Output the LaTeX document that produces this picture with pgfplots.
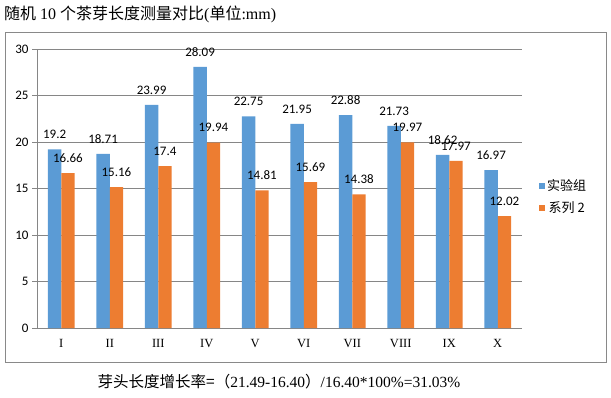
\documentclass[border=0pt]{standalone}
\usepackage{fontspec}
\setmainfont{Liberation Serif}
\newfontfamily\cjk{Noto Sans CJK SC}
\newfontfamily\carlito{Carlito}
\usepackage{pgfplots}
\pgfplotsset{compat=1.18}
\definecolor{cblue}{RGB}{91,155,213}
\definecolor{corange}{RGB}{237,125,49}
\definecolor{lgray}{RGB}{134,134,134}
\definecolor{fgray}{RGB}{137,137,137}
\pgfplotstableread{
x a b
0 19.2 16.66
1 18.71 15.16
2 23.99 17.4
3 28.09 19.94
4 22.75 14.81
5 21.95 15.69
6 22.88 14.38
7 21.73 19.97
8 18.62 17.97
9 16.97 12.02
}\datatable
\begin{document}
\begin{tikzpicture}[x=1pt,y=1pt]
\useasboundingbox (0,0) rectangle (611,397);
\draw[fgray, line width=1pt] (5.5,35) rectangle (606,364);
\node[anchor=west, inner sep=0, font=\fontsize{16}{18}\selectfont] at (4,383) {{\cjk 随机} 10 {\cjk 个茶芽长度测量对比}({\cjk 单位}:mm)};
\node[font=\fontsize{15.5}{17}\selectfont, inner sep=0] at (279,15) {{\cjk 芽头长度增长率=（}21.49-16.40{\cjk ）}/16.40*100\%=31.03\%};
\begin{axis}[
  at={(37pt,69pt)}, anchor=south west,
  scale only axis, width=485pt, height=279pt,
  xmin=-0.5, xmax=9.5, ymin=0, ymax=30,
  ytick={0,5,...,30},
  xtick={0,...,9},
  xticklabels={I,II,III,IV,V,VI,VII,VIII,IX,X},
  x tick label style={font=\fontsize{12.5}{14}\selectfont, yshift=-3pt},
  y tick label style={font=\carlito\fontsize{13}{15}\selectfont},
  /pgf/number format/assume math mode=true,
  x tick style={draw=none},
  extra x ticks={-0.5,0.5,...,9.5},
  extra x tick labels={},
  extra x tick style={grid=none, tick align=outside, major tick length=5pt, tick style={draw=lgray, line width=0.8pt}},
  ytick style={draw=lgray, line width=0.8pt},
  tick align=outside, major tick length=5pt,
  ymajorgrids, grid style={lgray, line width=0.8pt},
  axis x line*=bottom, axis y line*=left,
  axis line style={lgray, line width=0.8pt, -},
  ybar=0pt, bar width=13.3pt,
  nodes near coords,
  every node near coord/.append style={font=\carlito\fontsize{13}{15}\selectfont, text=black, yshift=7pt},
  legend style={at={(1.035,0.47)}, anchor=west, draw=none, fill=none, font=\cjk\fontsize{13}{15}\selectfont, row sep=5pt, inner sep=0pt},
  legend image code/.code={\fill[#1] (0pt,-3pt) rectangle (6pt,3pt);},
  clip=false,
]
\addplot[fill=cblue, draw=none] table[x=x,y=a]{\datatable};
\addplot[fill=corange, draw=none] table[x=x,y=b]{\datatable};
\legend{实验组,系列 2}
\end{axis}
\end{tikzpicture}
\end{document}
